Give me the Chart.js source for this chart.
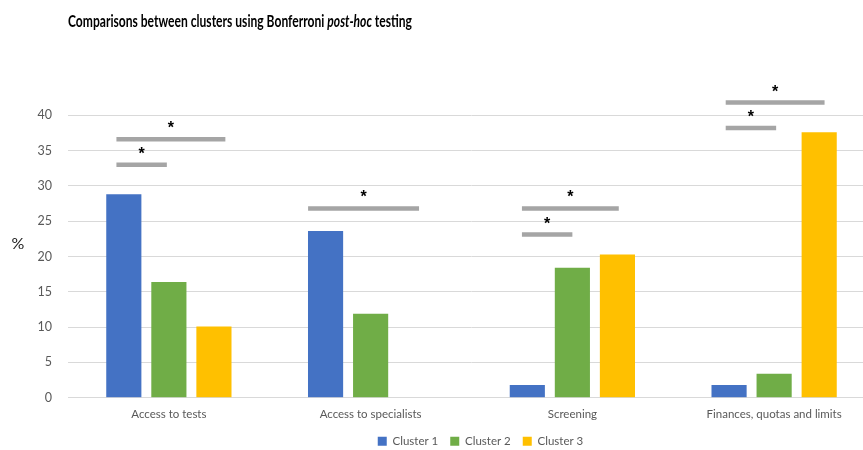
<!DOCTYPE html>
<html>
<head>
<meta charset="utf-8">
<script src="https://cdn.jsdelivr.net/npm/chart.js@4.4.1/dist/chart.umd.min.js"></script>
<style>
  html, body { margin: 0; padding: 0; background: #fff; overflow: hidden; }
  #wrap { width: 962px; height: 450px; }
</style>
</head>
<body>
<div id="wrap"><canvas id="chart" width="962" height="450"></canvas></div>
<script>
const categories = ['Access to tests', 'Access to specialists', 'Screening', 'Finances, quotas and limits'];
const cluster1 = [28.8, 23.6, 1.8, 1.8];
const cluster2 = [16.4, 11.9, 18.4, 3.4];
const cluster3 = [10.1, 0, 20.3, 37.6];
const yTicks = [0, 5, 10, 15, 20, 25, 30, 35, 40];

// significance bars: category index, start/end offset (in category widths), height in %
const sigCategory = [0, 0, 1, 2, 2, 3, 3];
const sigStart = [-0.26, -0.26, -0.31, -0.25, -0.25, -0.24, -0.24];
const sigEnd = [-0.01, 0.28, 0.24, 0.0, 0.23, 0.01, 0.25];
const sigValue = [33.0, 36.6, 26.8, 23.1, 26.8, 38.2, 41.8];

const FONT = 'Lato, "Liberation Sans", sans-serif';

const extras = {
    id: 'extras',
    afterLayout(chart) {
        // legend in the original sits a bit right of the plot centre
        if (chart.legend) {
            chart.legend.left += 43;
            chart.legend.right += 43;
        }
    },
    afterDatasetsDraw(chart) {
        const ctx = chart.ctx;
        const x = chart.scales.x;
        const y = chart.scales.y;
        const unit = x.getPixelForValue(1) - x.getPixelForValue(0);
        ctx.save();
        for (let i = 0; i < sigValue.length; i++) {
            const cx = x.getPixelForValue(sigCategory[i]);
            const x1 = cx + sigStart[i] * unit;
            const x2 = cx + sigEnd[i] * unit;
            const py = y.getPixelForValue(sigValue[i]);
            ctx.strokeStyle = '#a5a5a5';
            ctx.lineWidth = 4.5;
            ctx.beginPath();
            ctx.moveTo(x1, py);
            ctx.lineTo(x2, py);
            ctx.stroke();
            ctx.fillStyle = '#000';
            ctx.font = 'bold 16px "Liberation Sans", sans-serif';
            ctx.textAlign = 'center';
            ctx.textBaseline = 'alphabetic';
            ctx.fillText('*', (x1 + x2) / 2, py - 6);
        }
        ctx.restore();
    },
    afterDraw(chart) {
        const ctx = chart.ctx;
        const area = chart.chartArea;
        ctx.save();
        // y axis label
        ctx.fillStyle = '#222';
        ctx.font = '16px ' + FONT;
        ctx.textAlign = 'center';
        ctx.textBaseline = 'middle';
        ctx.fillText('%', 18, (area.top + area.bottom) / 2 + 5);
        // title with italic part, squeezed to the narrow look of the original
        const parts = [
            ['Comparisons between clusters using Bonferroni ', 'bold'],
            ['post-hoc', 'italic bold'],
            [' testing', 'bold']
        ];
        let total = 0;
        parts.forEach(([t, f]) => {
            ctx.font = f + ' 17px ' + FONT;
            total += ctx.measureText(t).width;
        });
        ctx.translate(68, 26.5);
        ctx.scale(344 / total, 1);
        let tx = 0;
        ctx.textAlign = 'left';
        ctx.textBaseline = 'alphabetic';
        ctx.fillStyle = '#000';
        parts.forEach(([t, f]) => {
            ctx.font = f + ' 17px ' + FONT;
            ctx.fillText(t, tx, 0);
            tx += ctx.measureText(t).width;
        });
        ctx.restore();
    }
};

new Chart(document.getElementById('chart'), {
    type: 'bar',
    data: {
        labels: categories,
        datasets: [
            { label: 'Cluster 1', data: cluster1, backgroundColor: '#4472c4' },
            { label: 'Cluster 2', data: cluster2, backgroundColor: '#70ad47' },
            { label: 'Cluster 3', data: cluster3, backgroundColor: '#ffc000' }
        ]
    },
    options: {
        responsive: false,
        animation: false,
        categoryPercentage: 0.67,
        barPercentage: 0.78,
        layout: { padding: { top: 80, right: 87, left: 0, bottom: -7 } },
        plugins: {
            legend: {
                position: 'bottom',
                labels: {
                    boxWidth: 9,
                    boxHeight: 9,
                    padding: 12,
                    color: '#595959',
                    font: { family: FONT, size: 11.5 }
                }
            },
            title: { display: false },
            tooltip: { enabled: false }
        },
        scales: {
            x: {
                grid: { display: false },
                border: { color: '#d9d9d9' },
                ticks: {
                    color: '#595959',
                    padding: 2,
                    font: { family: FONT, size: 11.5 }
                }
            },
            y: {
                min: 0,
                max: 45,
                afterFit(scale) { scale.width = 68; },
                afterBuildTicks(scale) {
                    scale.ticks = yTicks.map(v => ({ value: v }));
                },
                border: { display: false },
                grid: { color: '#d9d9d9', drawTicks: false },
                ticks: {
                    color: '#595959',
                    padding: 16,
                    font: { family: FONT, size: 12.5 }
                }
            }
        }
    },
    plugins: [extras]
});
</script>
</body>
</html>
